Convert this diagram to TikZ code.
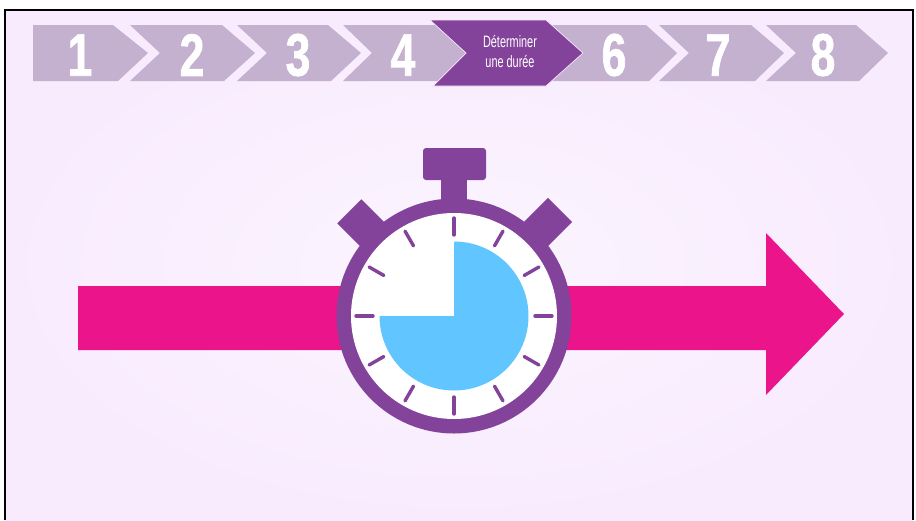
\documentclass[tikz,border=0pt]{standalone}
\usepackage{fontspec}
\usepackage{xcolor}
\setmainfont{Liberation Sans}
\newfontfamily\stepfont[FakeStretch=0.66]{Liberation Sans}
\newfontfamily\numfont[FakeStretch=0.74,BoldFeatures={FakeBold=1.2}]{Liberation Sans}
\definecolor{bgedge}{HTML}{F8EBFE}
\definecolor{bgmid}{HTML}{FBF5FE}
\definecolor{plum}{HTML}{84439B}
\definecolor{plumlight}{HTML}{C4B0CF}
\definecolor{pinkarrow}{HTML}{EB148A}
\definecolor{skyfill}{HTML}{61C5FF}

\begin{document}
\begin{tikzpicture}[
  x=1pt, y=-1pt,
  stepnum/.style={text=white, inner sep=0pt, font=\numfont\fontsize{60}{60}\selectfont\bfseries},
  steptext/.style={text=white, inner sep=0pt, align=center, font=\stepfont\fontsize{16.5}{20}\selectfont},
  stepgrey/.style={fill=plumlight},
  stepnow/.style={fill=plum, draw=bgedge, line width=0.7pt},
  watch/.style={fill=plum},
  tick/.style={draw=plum, line width=3.4pt, line cap=round}
]
\useasboundingbox (0,0) rectangle (916,520);
\fill[white] (0,0) rectangle (916,520);
\shade[inner color=bgmid, outer color=bgedge] (5,9.5) rectangle (913,520);
\draw[black, line width=2pt] (5,520) -- (5,9.5) -- (913,9.5) -- (913,520);

% step ribbon
\fill[stepgrey] (33,25) -- (113,25) -- (148,53) -- (118,81) -- (33,81) -- cycle;
\fill[stepgrey] (130,25) -- (222,25) -- (255,53) -- (224,81) -- (130,81) -- (160,53) -- cycle;
\fill[stepgrey] (237,25) -- (328,25) -- (361,53) -- (331,81) -- (237,81) -- (267,53) -- cycle;
\fill[stepgrey] (343,25) -- (440,25) -- (470,53) -- (440,81) -- (343,81) -- (372,53) -- cycle;
\fill[stepgrey] (540,25) -- (646,25) -- (677,53) -- (649,81) -- (540,81) -- cycle;
\fill[stepgrey] (659,25) -- (751,25) -- (784,53) -- (755,81) -- (659,81) -- (689,53) -- cycle;
\fill[stepgrey] (766,25) -- (856,25) -- (888,53) -- (859,81) -- (766,81) -- (796,53) -- cycle;
\path[stepnow] (430,20) -- (546,20) -- (583,53) -- (546,86) -- (433,86) -- (466,53) -- cycle;

\node[stepnum] (one) at (80,55) {1};
\node[stepnum] (two) at (192,55) {2};
\node[stepnum] (three) at (298,55) {3};
\node[stepnum] (four) at (403,55) {4};
\node[steptext] (now) at (510,52) {Déterminer\\une durée};
\node[stepnum] (six) at (614,55) {6};
\node[stepnum] (seven) at (718,55) {7};
\node[stepnum] (eight) at (823,55) {8};

% arrow behind the watch
\fill[pinkarrow] (78,286) -- (766,286) -- (766,233) -- (844,314) -- (766,395) -- (766,350) -- (78,350) -- cycle;

% stopwatch
\coordinate (hub) at (454,316);
\fill[watch, rounded corners=3pt] (423,148) rectangle (486,180);
\fill[watch] (441,175) rectangle (467,215);
\begin{scope}[shift={(hub)}, rotate=45]
  \fill[watch] (-17pt,100pt) rectangle (17pt,148pt);
\end{scope}
\begin{scope}[shift={(hub)}, rotate=-45]
  \fill[watch] (-17pt,100pt) rectangle (17pt,150pt);
\end{scope}
\fill[watch] (hub) circle[radius=117.5pt];
\fill[white] (hub) circle[radius=103pt];
\fill[skyfill] (hub) -- ([yshift=74.5pt]hub) arc[start angle=90, end angle=-180, radius=74.5pt] -- cycle;
\begin{scope}[shift={(hub)}]
  \foreach \ang in {0,30,...,330}
    \draw[tick] (\ang:81pt) -- (\ang:98pt);
\end{scope}
\end{tikzpicture}
\end{document}
